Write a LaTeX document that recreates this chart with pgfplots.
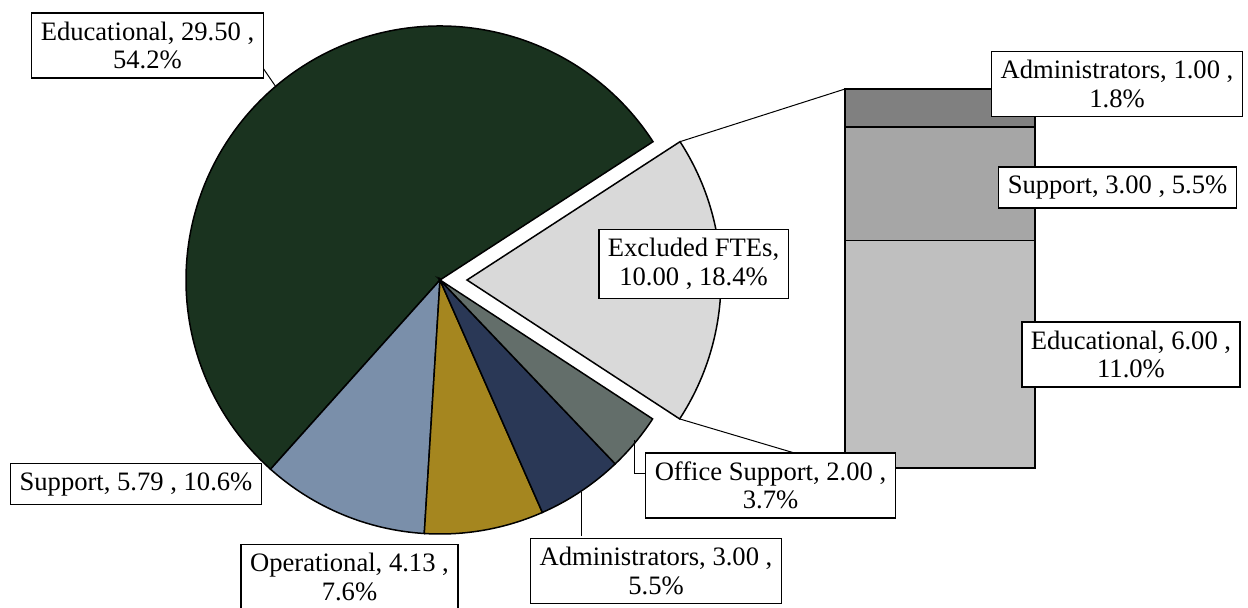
\documentclass[border=0pt]{standalone}
\usepackage{pgfplots}
\pgfplotsset{compat=1.18}
\usepackage{fontspec}
\setmainfont{Liberation Serif}
\definecolor{cEdu}{HTML}{1A331F}
\definecolor{cSup}{HTML}{7A8FAA}
\definecolor{cOp}{HTML}{A5861F}
\definecolor{cAdm}{HTML}{2A3856}
\definecolor{cOff}{HTML}{636E6A}
\definecolor{cExc}{HTML}{D9D9D9}
\definecolor{bAdm}{HTML}{808080}
\definecolor{bSup}{HTML}{A6A6A6}
\definecolor{bEdu}{HTML}{BFBFBF}
% pie values
\def\vEdu{29.50}\def\vSup{5.79}\def\vOp{4.13}\def\vAdm{3.00}\def\vOff{2.00}\def\vExc{10.00}
\tikzset{lbl/.style={draw=black, line width=0.7pt, fill=white, align=center,
  inner xsep=4.5pt, inner ysep=4.4pt, font=\fontsize{13.3}{14.2}\selectfont}}
\begin{document}
\begin{tikzpicture}
\pgfmathsetmacro\tot{\vEdu+\vSup+\vOp+\vAdm+\vOff+\vExc}
\pgfmathsetmacro\aA{33}
\pgfmathsetmacro\aB{\aA+\vEdu/\tot*360}
\pgfmathsetmacro\aC{\aB+\vSup/\tot*360}
\pgfmathsetmacro\aD{\aC+\vOp/\tot*360}
\pgfmathsetmacro\aE{\aD+\vAdm/\tot*360}
\pgfmathsetmacro\aF{\aE+\vOff/\tot*360}
\pgfmathsetmacro\aG{\aF+\vExc/\tot*360}
\def\R{127pt}
% stacked bar (breakdown of Excluded FTEs)
\begin{axis}[at={(422.5pt,69.5pt)}, anchor=south west, scale only axis,
  width=95pt, height=189.5pt, xmin=0.5, xmax=1.5, ymin=0, ymax=10,
  hide axis, clip=false, ybar stacked, bar width=95pt]
\addplot[fill=bEdu, draw=black, line width=0.7pt] coordinates {(1,6.00)};
\addplot[fill=bSup, draw=black, line width=0.7pt] coordinates {(1,3.00)};
\addplot[fill=bAdm, draw=black, line width=0.7pt] coordinates {(1,1.00)};
\end{axis}
% pie
\begin{axis}[at={(0,0)}, anchor=south west, scale only axis,
  width=624pt, height=303.5pt, xmin=0, xmax=1248, ymin=0, ymax=607,
  y dir=reverse, hide axis, clip=false]
\filldraw[fill=cEdu, draw=black, line width=0.75pt] (axis cs:440,280) -- ++(\aA:\R) arc[start angle=\aA, end angle=\aB, radius=\R] -- cycle;
\filldraw[fill=cSup, draw=black, line width=0.75pt] (axis cs:440,280) -- ++(\aB:\R) arc[start angle=\aB, end angle=\aC, radius=\R] -- cycle;
\filldraw[fill=cOp, draw=black, line width=0.75pt] (axis cs:440,280) -- ++(\aC:\R) arc[start angle=\aC, end angle=\aD, radius=\R] -- cycle;
\filldraw[fill=cAdm, draw=black, line width=0.75pt] (axis cs:440,280) -- ++(\aD:\R) arc[start angle=\aD, end angle=\aE, radius=\R] -- cycle;
\filldraw[fill=cOff, draw=black, line width=0.75pt] (axis cs:440,280) -- ++(\aE:\R) arc[start angle=\aE, end angle=\aF, radius=\R] -- cycle;
\filldraw[fill=cExc, draw=black, line width=0.75pt] (axis cs:467,280) -- ++(\aF:\R) arc[start angle=\aF, end angle=\aG, radius=\R] -- cycle;
% connectors
\draw[line width=0.5pt] (axis cs:467,280) ++(\aG:\R) -- (axis cs:845,89);
\draw[line width=0.5pt] (axis cs:467,280) ++(\aF:\R) -- (axis cs:845,468);
% leader lines
\draw[line width=0.5pt] (axis cs:263,68) -- (axis cs:276,87);
\draw[line width=0.5pt] (axis cs:646,473) -- (axis cs:634,473) -- (axis cs:634,440);
\draw[line width=0.5pt] (axis cs:581,536) -- (axis cs:581,492);
% labels
\node[lbl] at (axis cs:147.5,45.5) {Educational, 29.50 ,\\ 54.2\%};
\node[lbl] at (axis cs:136,484) {Support, 5.79 , 10.6\%};
\node[lbl] at (axis cs:349.5,577) {Operational, 4.13 ,\\ 7.6\%};
\node[lbl] at (axis cs:656,571) {Administrators, 3.00 ,\\ 5.5\%};
\node[lbl] at (axis cs:770.5,485.5) {Office Support, 2.00 ,\\ 3.7\%};
\node[lbl] at (axis cs:693.5,264) {Excluded FTEs,\\ 10.00 , 18.4\%};
\node[lbl] at (axis cs:1117,84) {Administrators, 1.00 ,\\ 1.8\%};
\node[lbl] at (axis cs:1117.5,187.5) {Support, 3.00 , 5.5\%};
\node[lbl] at (axis cs:1131,354.5) {Educational, 6.00 ,\\ 11.0\%};
\end{axis}
\pgfresetboundingbox
\useasboundingbox (0,0) rectangle (624pt,303.5pt);
\end{tikzpicture}
\end{document}
